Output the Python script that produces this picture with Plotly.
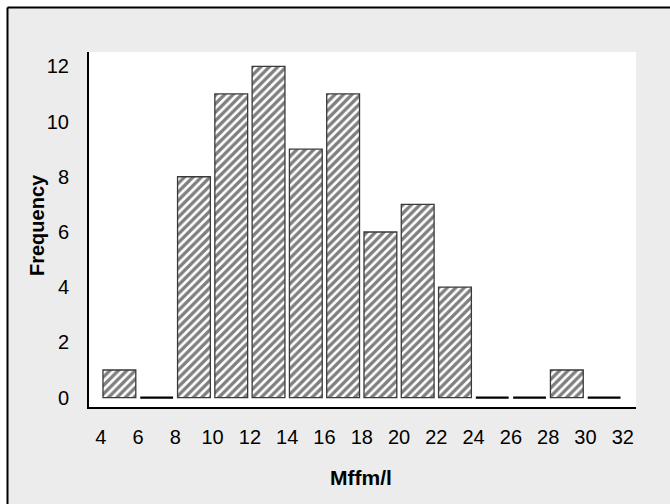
import plotly.graph_objects as go

bin_centers = [5, 7, 9, 11, 13, 15, 17, 19, 21, 23, 25, 27, 29, 31]
frequencies = [1, 0, 8, 11, 12, 9, 11, 6, 7, 4, 0, 0, 1, 0]
x_ticks = [4, 6, 8, 10, 12, 14, 16, 18, 20, 22, 24, 26, 28, 30, 32]
y_ticks = [0, 2, 4, 6, 8, 10, 12]

FONT = "Liberation Sans, Arial, Helvetica, sans-serif"

W, H = 670, 504
L, R, T, B = 89, 34, 52, 97
PW, PH = W - L - R, H - T - B

def px(x):
    return (x - L) / PW

def py(y):
    return (H - B - y) / PH

outline_widths = [2.2 if f == 0 else 1.3 for f in frequencies]
outline_colors = ["black" if f == 0 else "#3a3a3a" for f in frequencies]

fig = go.Figure()
fig.add_trace(go.Bar(
    x=bin_centers,
    y=frequencies,
    width=1.76,
    marker=dict(
        color="white",
        line=dict(color=outline_colors, width=outline_widths),
        pattern=dict(shape="/", fgcolor="black", bgcolor="white", size=6, solidity=0.55),
    ),
    showlegend=False,
))

fig.update_layout(
    width=W, height=H,
    margin=dict(l=L, r=R, t=T, b=B, pad=0),
    paper_bgcolor="#ececec",
    plot_bgcolor="white",
    font=dict(family=FONT, size=20, color="black"),
    xaxis=dict(
        range=[3.37, 32.71], tickvals=x_ticks, showgrid=False, zeroline=False,
        showline=True, linecolor="black", linewidth=2, ticks="",
        ticklabelstandoff=11, tickfont=dict(size=20),
    ),
    yaxis=dict(
        range=[-0.34, 12.52], tickvals=y_ticks, showgrid=False, zeroline=False,
        showline=True, linecolor="black", linewidth=2, ticks="",
        ticklabelstandoff=14, tickfont=dict(size=20),
    ),
    shapes=[
        dict(type="rect", xref="paper", yref="paper", x0=px(-5), x1=px(7), y0=py(-5), y1=py(H + 5),
             fillcolor="white", line=dict(width=0), layer="above"),
        dict(type="rect", xref="paper", yref="paper", x0=px(-5), x1=px(W + 5), y0=py(-5), y1=py(7),
             fillcolor="white", line=dict(width=0), layer="above"),
        dict(type="line", xref="paper", yref="paper", x0=px(7.5), x1=px(7.5), y0=py(7.5), y1=py(H + 5),
             line=dict(color="black", width=2)),
        dict(type="line", xref="paper", yref="paper", x0=px(7.5), x1=px(W + 5), y0=py(7.5), y1=py(7.5),
             line=dict(color="black", width=2)),
    ],
    annotations=[
        dict(text="<b>Frequency</b>", xref="paper", yref="paper", x=px(37), y=py(225),
             textangle=-90, showarrow=False, font=dict(size=20, family=FONT),
             xanchor="center", yanchor="middle"),
        dict(text="<b>Mffm/l</b>", xref="paper", yref="paper", x=px(361), y=py(477),
             showarrow=False, font=dict(size=21, family=FONT),
             xanchor="center", yanchor="middle"),
    ],
)

fig.write_html(
    "out.html",
    config={"displayModeBar": False},
    post_script=(
        "document.documentElement.style.overflow='hidden';"
        "document.body.style.overflow='hidden';"
        "document.body.style.margin='0';"
    ),
)
